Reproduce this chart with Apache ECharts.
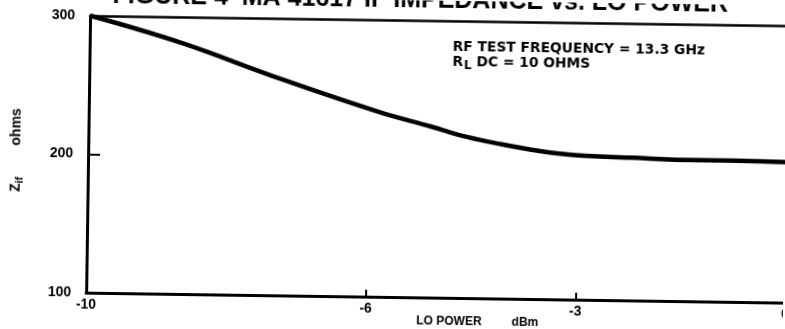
<!DOCTYPE html>
<html><head><meta charset="utf-8">
<script src="https://cdn.jsdelivr.net/npm/echarts@6/dist/echarts.min.js"></script>
<style>
html,body{margin:0;padding:0;background:#fff;overflow:hidden}
#chart{width:785px;height:329px;transform:rotate(0.82deg);transform-origin:50% 50%}
</style></head><body><div id="chart"></div>
<script>
// LO power sweep (dBm) and the resulting IF impedance (ohms)
const loPower = [-10, -8.7, -7.3, -5.85, -5.1, -4.6, -4.1, -3.4, -2.9, -2.2, -1.5, -0.8, 0];
const zIf = [300, 281.5, 257, 233.5, 223.5, 216.5, 211.5, 206, 204, 203, 202, 202, 201.5];

// printed tick labels and the inner tick marks of each axis
const xTickLabels = [-10, -6, -3, 0];
const xInnerTicks = [-6, -3];
const yTickLabels = [100, 200, 300];
const yInnerTicks = [200];

const FONT = '"Liberation Sans", Arial, sans-serif';
const NARROW = '"Liberation Sans Narrow", "Liberation Sans", Arial, sans-serif';
const WIDE = '"DejaVu Sans", sans-serif';
const INK = '#000';

const chart = echarts.init(document.getElementById('chart'), null, { renderer: 'canvas' });

chart.setOption({
  animation: false,
  backgroundColor: '#fff',
  grid: { left: 88, right: -2, top: 20, bottom: 32, containLabel: false, outerBoundsMode: 'none' },
  xAxis: [{
    type: 'value', min: -10, max: 0,
    axisLine: { show: true, onZero: false, lineStyle: { color: INK, width: 3 } },
    axisTick: { show: true, inside: true, length: 7, customValues: xInnerTicks, lineStyle: { color: INK, width: 2 } },
    axisLabel: { show: true, customValues: xTickLabels, margin: 5, color: INK, fontFamily: FONT, fontWeight: 'bold', fontSize: 14, hideOverlap: false },
    splitLine: { show: false },
    name: 'LO POWER         dBm', nameLocation: 'middle', nameGap: 18, nameMoveOverlap: false,
    nameTextStyle: { color: INK, fontFamily: FONT, fontWeight: 'bold', fontSize: 12, padding: [0, 0, 0, 84] }
  }, {
    type: 'value', min: -10, max: 0, position: 'top',
    axisLine: { show: true, onZero: false, lineStyle: { color: INK, width: 2.5 } },
    axisTick: { show: false }, axisLabel: { show: false }, splitLine: { show: false }
  }],
  yAxis: {
    type: 'value', min: 100, max: 300,
    axisLine: { show: true, onZero: false, lineStyle: { color: INK, width: 3 } },
    axisTick: { show: true, inside: true, length: 12, customValues: yInnerTicks, lineStyle: { color: INK, width: 2 } },
    axisLabel: { show: true, customValues: yTickLabels, margin: 15, color: INK, fontFamily: FONT, fontWeight: 'bold', fontSize: 14 },
    splitLine: { show: false },
    name: '{m|Z}{s|if}{m|        ohms}', nameLocation: 'middle', nameRotate: 90, nameGap: 58, nameMoveOverlap: false,
    nameTextStyle: {
      padding: [0, 0, 0, 6],
      rich: {
        m: { fontFamily: NARROW, fontWeight: 'bold', fontSize: 14, lineHeight: 14, verticalAlign: 'top', color: INK },
        s: { fontFamily: NARROW, fontWeight: 'bold', fontSize: 11, lineHeight: 21, color: INK }
      }
    }
  },
  graphic: [
    {
      type: 'text', x: 418, y: 13,
      style: { text: 'FIGURE 4  MA 41617 IF IMPEDANCE vs. LO POWER', fill: INK, font: 'bold 25px ' + FONT, align: 'center', verticalAlign: 'bottom' }
    },
    {
      type: 'text', x: 451, y: 39,
      style: { text: 'RF TEST FREQUENCY = 13.3 GHz', fill: INK, font: 'bold 13.8px ' + WIDE, align: 'left', verticalAlign: 'top' }
    },
    {
      type: 'text', x: 451, y: 54,
      style: {
        text: '{m|R}{s|L}{m| DC = 10 OHMS}', align: 'left', verticalAlign: 'top',
        rich: {
          m: { font: 'bold 13.8px ' + WIDE, fill: INK, lineHeight: 14, verticalAlign: 'top' },
          s: { font: 'bold 12px ' + WIDE, fill: INK, lineHeight: 22, padding: [0, 0, 0, 1] }
        }
      }
    }
  ],
  series: [{
    type: 'line',
    data: loPower.map((p, i) => [p, zIf[i]]),
    xAxisIndex: 0,
    smooth: 0.4,
    showSymbol: false,
    symbol: 'none',
    clip: false,
    lineStyle: { color: INK, width: 4.5 }
  }]
});
</script></body></html>
